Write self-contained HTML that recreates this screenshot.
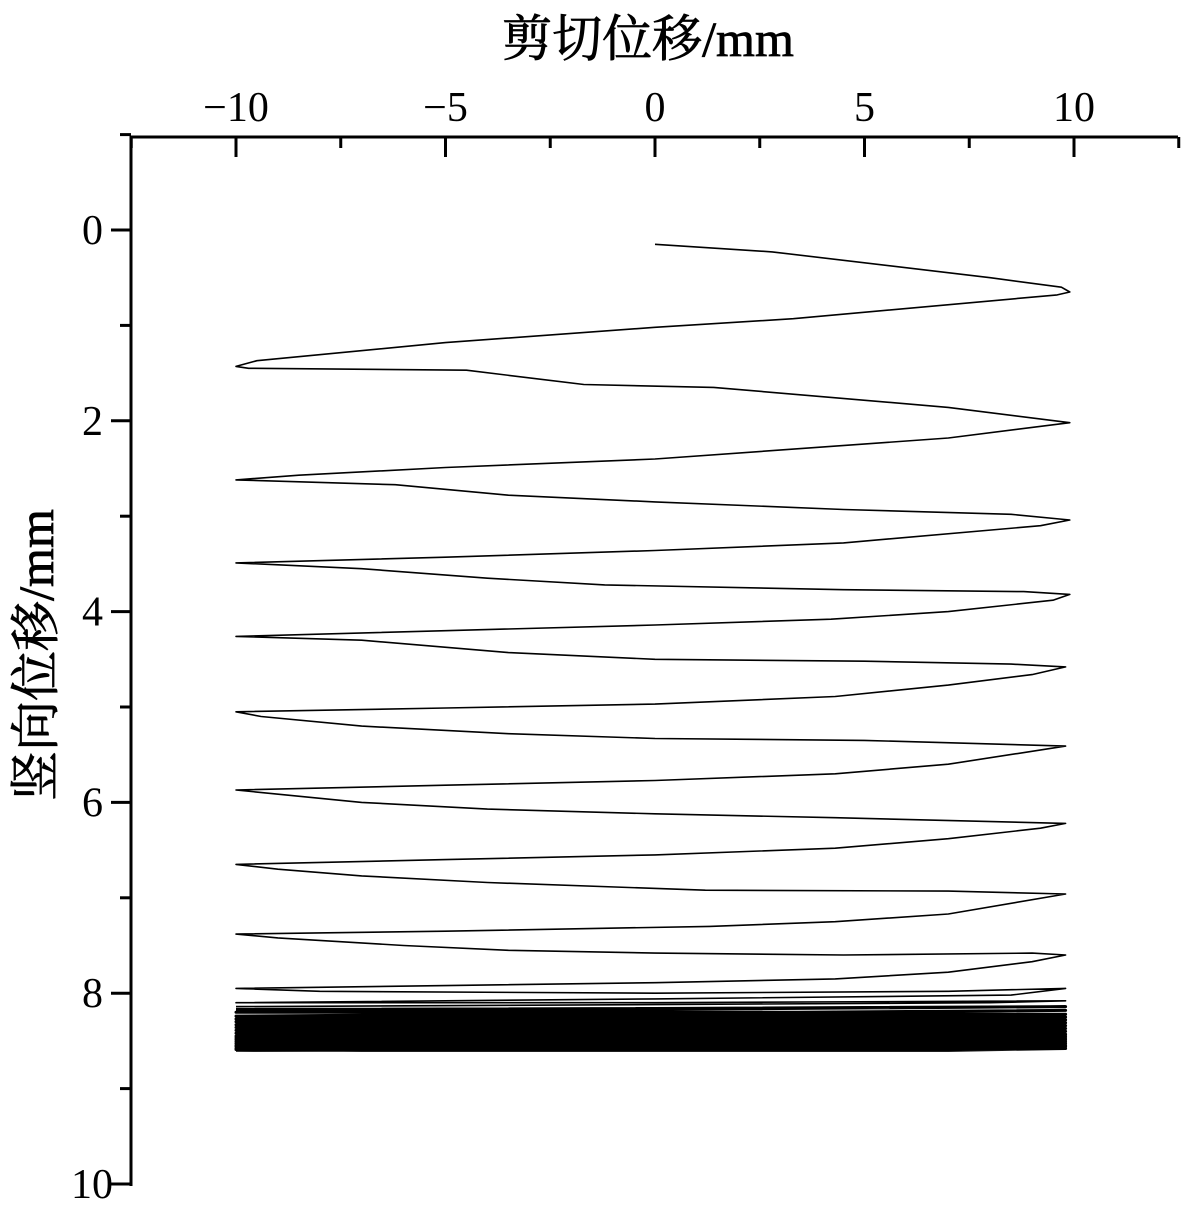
<!DOCTYPE html>
<html><head><meta charset="utf-8"><style>
body{margin:0;background:#fff}
svg text{font-family:"Liberation Serif","Noto Serif CJK SC",serif;fill:#000}
</style></head><body>
<svg id="c" width="1181" height="1205" viewBox="0 0 1181 1205" xmlns="http://www.w3.org/2000/svg">
<text x="648" y="56" font-size="50" text-anchor="middle" stroke="#000" stroke-width="0.8">剪切位移/mm</text>
<text transform="translate(53,655) rotate(-90)" font-size="50" text-anchor="middle" stroke="#000" stroke-width="0.8">竖向位移/mm</text>
<g id="axes"></g>
<path id="curve" fill="none" stroke="#000" stroke-width="1.6" stroke-linejoin="round"/>
<path id="band" fill="none" stroke="#000" stroke-width="3" stroke-linejoin="round"/>
</svg>
<script>
const xTicks=[-10,-5,0,5,10];
const yTicks=[0,2,4,6,8,10];
const shearX=[0,2.8,8,9.7,9.9,9.6,3.3,0,-5,-9.5,-10,-9.7,-4.5,-1.7,1.4,7,9.9,
7,0,-5,-8.5,-10,-6.2,-3.5,0,4.5,8.5,9.9,
9.2,4.5,0,-5,-10,-7,-4,-1.2,4.5,8.8,9.9,
9.5,7,4.2,0,-5,-10,-7,-3.5,0,5,8.5,9.8,
9,7,4.3,0,-5,-10,-9.4,-7,-3.5,0,5,9.8,
7,4.3,0,-5,-10,-7,-4,0,4.3,9.8,
9.2,7,4.3,0,-5,-10,-9,-7,-4,1.2,7,9.8,
7,4.3,1.3,-5,-10,-9,-6,-3.5,0,4.5,9,9.8,
9,7,4.3,0,-5,-10,-8,0,7,9.8,
8.5,0,-10,0,9.8,8,0,-10];
const vertY=[0.15,0.23,0.5,0.6,0.65,0.68,0.93,1.02,1.18,1.37,1.43,1.45,1.47,1.62,1.65,1.86,2.02,
2.18,2.4,2.49,2.57,2.62,2.67,2.78,2.85,2.93,2.98,3.04,
3.1,3.28,3.36,3.43,3.49,3.55,3.65,3.72,3.77,3.79,3.82,
3.88,4.0,4.08,4.14,4.2,4.26,4.3,4.43,4.5,4.52,4.55,4.58,
4.66,4.77,4.89,4.97,5.01,5.05,5.1,5.2,5.28,5.33,5.35,5.41,
5.6,5.7,5.77,5.82,5.87,6.0,6.07,6.12,6.16,6.22,
6.27,6.38,6.48,6.55,6.6,6.65,6.7,6.77,6.84,6.92,6.93,6.96,
7.17,7.25,7.3,7.35,7.38,7.42,7.5,7.55,7.58,7.6,7.58,7.6,
7.67,7.78,7.85,7.89,7.92,7.95,7.98,8.0,7.98,7.95,
8.02,8.06,8.1,8.1,8.08,8.1,8.12,8.14];
const bandX=[-10,0,9.8,-10,5,9.8,-10,0,9.8,-10,0,9.8,-10,0,9.8,-10,0,9.8,-10,0,9.8,-10,0,9.8,-10,0,9.8,-10,0,9.8,-10,0,9.8,-10,0,9.8,-10,0,9.8,-10,0,9.8,-10,0,9.8,-10,0,9.8,-10,0,9.8,-10,-7,0,7,9.8,-10];
const bandY=[8.17,8.16,8.14,8.2,8.2,8.18,8.24,8.23,8.22,8.27,8.26,8.25,8.3,8.29,8.28,8.33,8.32,8.31,8.36,8.35,8.34,8.39,8.38,8.37,8.42,8.41,8.4,8.45,8.44,8.43,8.47,8.46,8.45,8.49,8.48,8.47,8.51,8.5,8.49,8.53,8.52,8.51,8.55,8.54,8.53,8.56,8.56,8.55,8.58,8.57,8.56,8.59,8.6,8.6,8.6,8.58,8.6];
const X0=655,XS=41.9,Y0=230,YS=95.4;
const sx=v=>X0+v*XS, sy=v=>Y0+v*YS;
const NS="http://www.w3.org/2000/svg";
const g=document.getElementById('axes');
function ln(x1,y1,x2,y2,w){const l=document.createElementNS(NS,'line');l.setAttribute('x1',x1);l.setAttribute('y1',y1);l.setAttribute('x2',x2);l.setAttribute('y2',y2);l.setAttribute('stroke','#000');l.setAttribute('stroke-width',w);g.appendChild(l);return l;}
let a=ln(131,137,1178,137,3);


a=ln(131,136,131,1186,3);


for(let v=-12.5;v<=12.5;v+=2.5){const x=sx(v);const major=xTicks.includes(v);
 const t=ln(x,137,x,major?157:148,3);
 
 }
xTicks.forEach(v=>{const t=document.createElementNS(NS,'text');t.setAttribute('x',sx(v));t.setAttribute('y',121);t.setAttribute('font-size','42');t.setAttribute('text-anchor','middle');t.textContent=v<0?'\u2212'+(-v):String(v);
 
 
 g.appendChild(t);});
for(let v=-1;v<=10;v++){const y=sy(v);const major=yTicks.includes(v);
 const t=ln(major?111:120,y,131,y,3);
 
 }
yTicks.forEach(v=>{const t=document.createElementNS(NS,'text');t.setAttribute('x',v>=10?113:103);t.setAttribute('y',sy(v)+14);t.setAttribute('font-size','42');t.setAttribute('text-anchor','end');t.textContent=String(v);
 
 
 g.appendChild(t);});
function path(xs,ys){let d='';const n=Math.min(xs.length,ys.length);
for(let i=0;i<n;i++){d+=(i?'L':'M')+sx(xs[i]).toFixed(1)+','+sy(ys[i]).toFixed(1);}return d;}
document.getElementById('curve').setAttribute('d',path(shearX,vertY));
document.getElementById('band').setAttribute('d',path(bandX,bandY));
</script>
</body></html>
